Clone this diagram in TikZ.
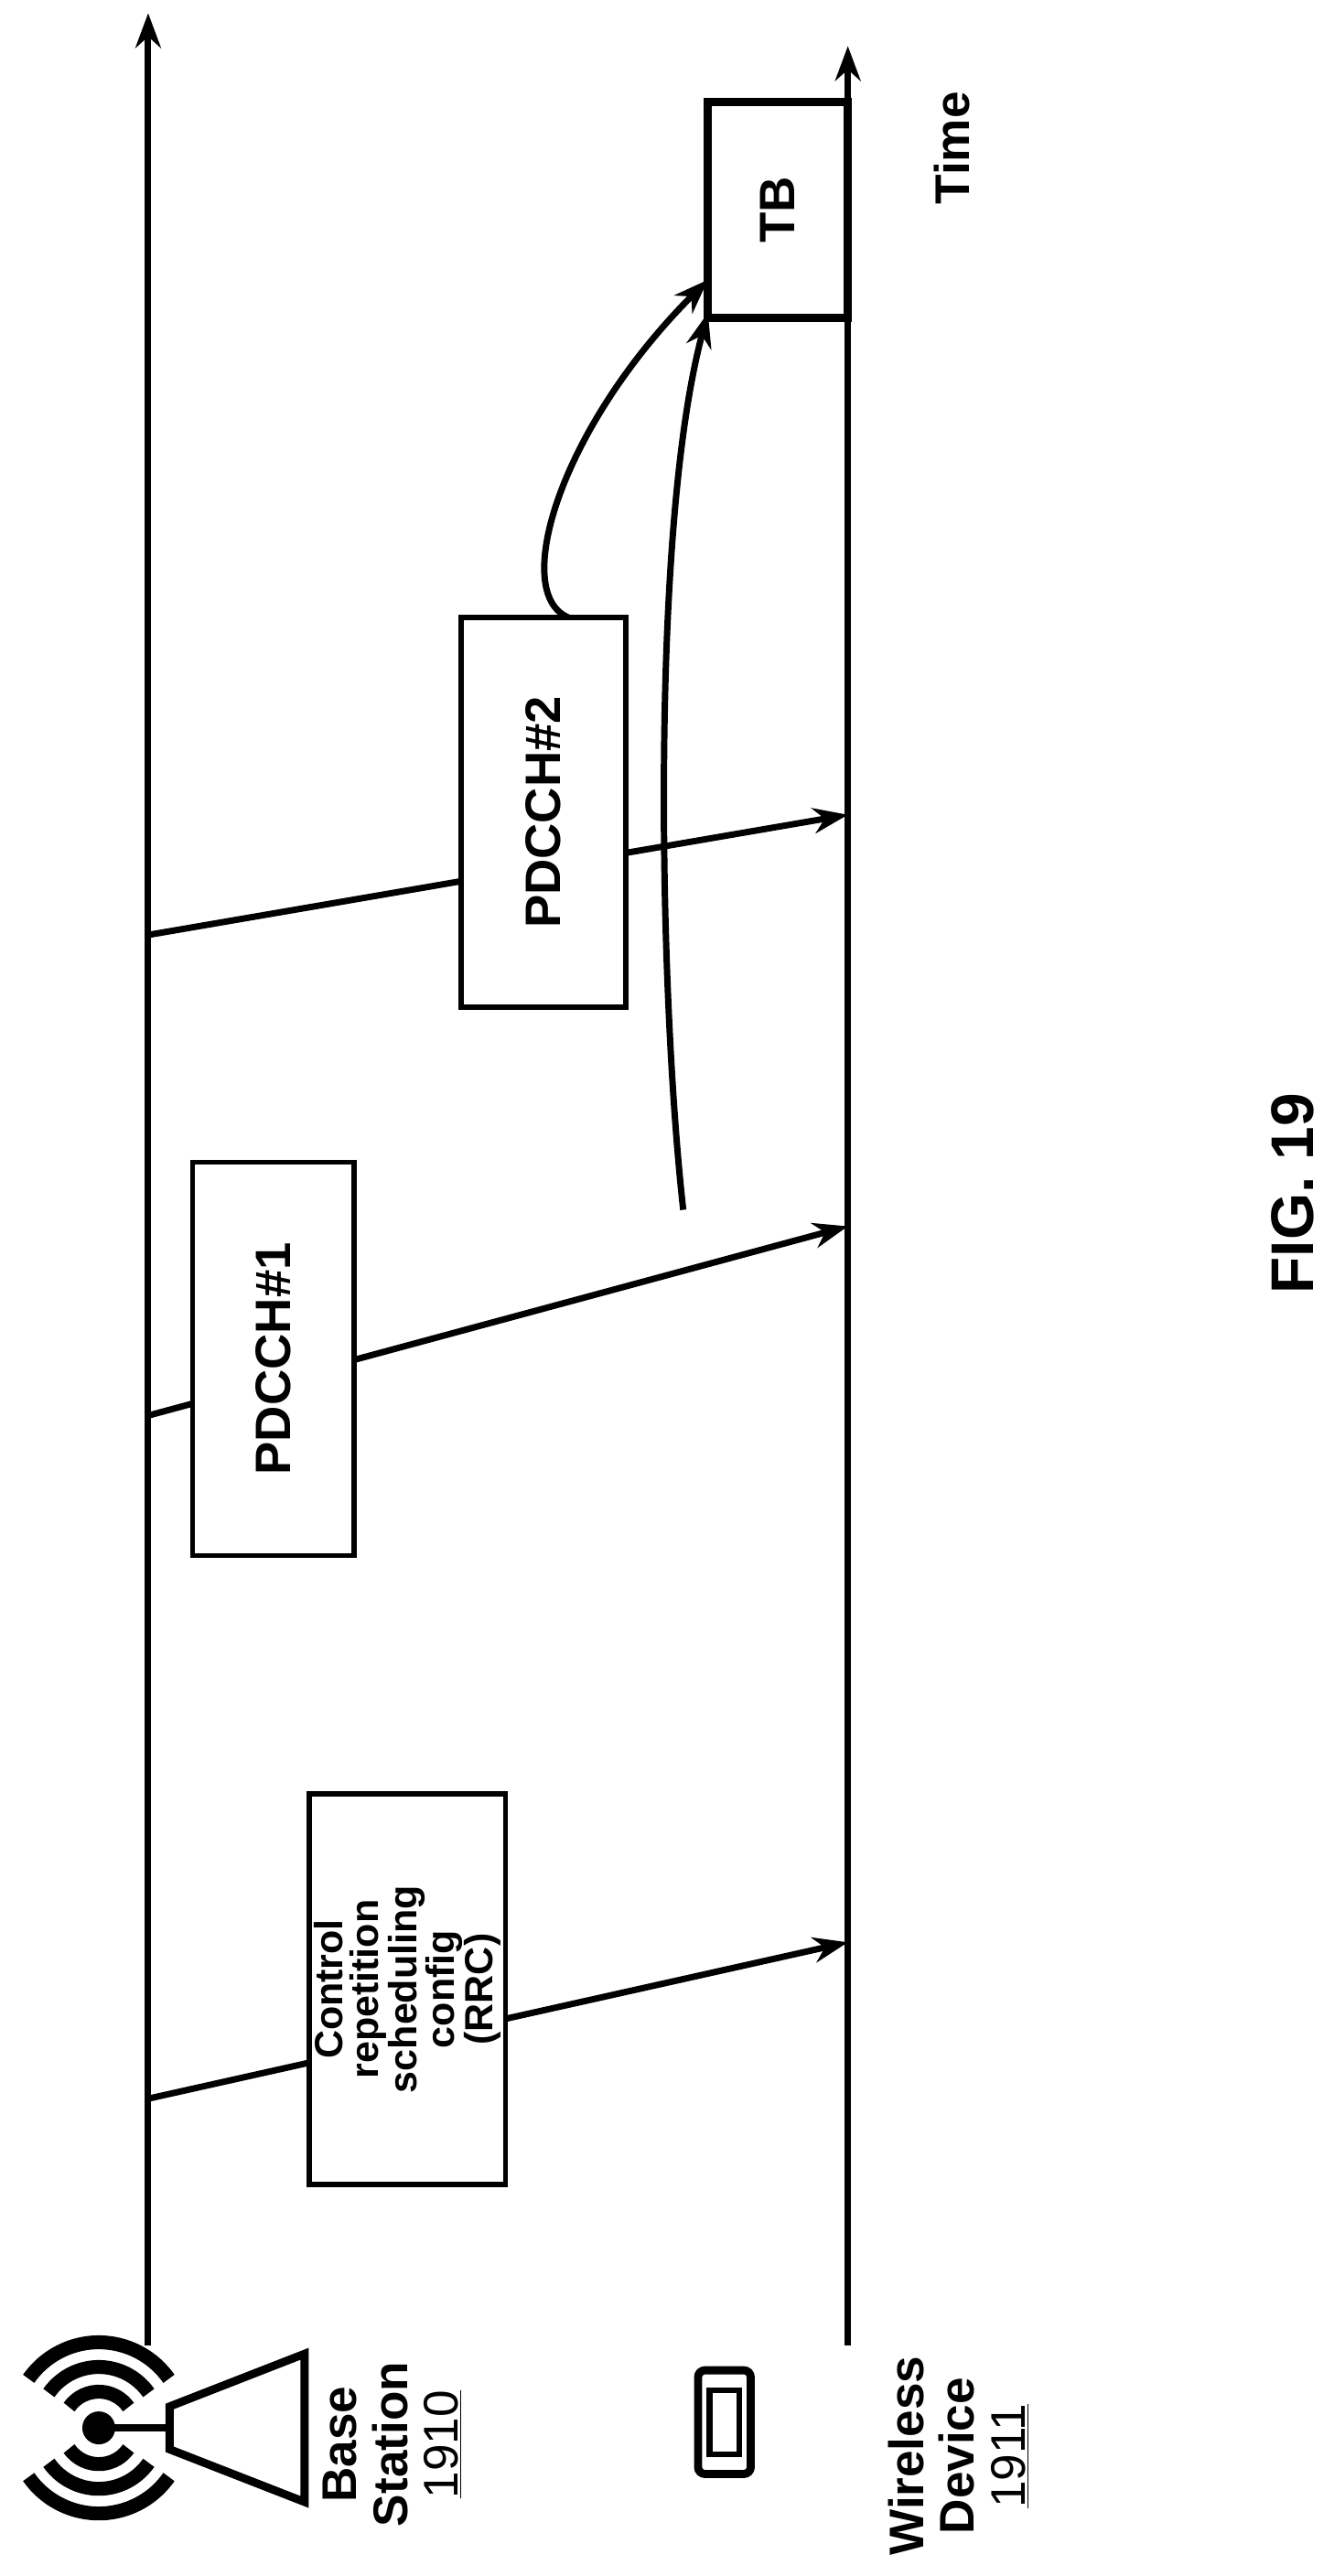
\documentclass[tikz,border=0pt]{standalone}
\usepackage{fontspec}
\setmainfont{Liberation Sans}
\usetikzlibrary{arrows.meta}
\begin{document}
\begin{tikzpicture}[x=0.05cm,y=-0.05cm,
  ln/.style={line width=5.5pt},
  arr/.style={ln,-{Stealth[length=30pt,width=22pt]}},
  box/.style={draw,line width=4.5pt,fill=white,rotate=90,align=center,inner sep=0pt,font=\fontsize{43}{38}\selectfont\bfseries},
  lab/.style={rotate=90,align=center,font=\fontsize{42}{44}\selectfont\bfseries}]
\useasboundingbox (0,0) rectangle (810,1565);
% timelines
\coordinate (bs0) at (90,1425); \coordinate (bs1) at (90,8);
\coordinate (wd0) at (515,1425); \coordinate (wd1) at (515,28);
\draw[arr] (bs0) -- (bs1);
\draw[arr] (wd0) -- (wd1);
% messages
\coordinate (a1) at (90,1275); \coordinate (b1) at (515,1180);
\coordinate (a2) at (90,860); \coordinate (b2) at (515,745);
\coordinate (a3) at (90,568); \coordinate (b3) at (515,495);
\draw[arr] (a1) -- (b1);
\draw[arr] (a2) -- (b2);
\draw[arr] (a3) -- (b3);
\node[box,minimum width=11.85cm,minimum height=5.95cm] (rrc) at (247.5,1208.5) {};
\node[rotate=90,align=center,inner sep=0pt,font=\fontsize{34}{31}\selectfont\bfseries] (rrct) at (rrc.center) {Control\\repetition\\scheduling\\config\\(RRC)};
\node[box,minimum width=11.95cm,minimum height=4.9cm] (p1) at (166,825.5) {PDCCH\#1};
\node[box,minimum width=11.85cm,minimum height=5cm] (p2) at (330,493.5) {PDCCH\#2};
\node[box,line width=7pt,minimum width=6.55cm,minimum height=4.25cm] (tb) at (472.5,127.5) {TB};
% curves
\coordinate (c1) at (415,735);
\coordinate (c2) at (345,375);
\draw[arr] (c2) .. controls (310,360) and (340,260) .. (430,170);
\draw[arr] (c1) .. controls (400,600) and (395,320) .. (430,190);
% labels
\node[lab] (time) at (578,90) {Time};
\node[lab,font=\fontsize{52}{56}\selectfont\bfseries] (fig) at (785,725) {FIG. 19};
\node[lab] (bsl) at (238,1485) {Base\\Station\\{\mdseries\underline{1910}}};
\node[lab] (wdl) at (582,1492) {Wireless\\Device\\{\mdseries\underline{1911}}};
% base station icon
\fill (60,1475) circle (10);
\foreach \r in {22,37,52}{
  \draw[line width=12pt] (60,1475) ++(145:\r) arc[start angle=145,end angle=35,radius=\r];
  \draw[line width=12pt] (60,1475) ++(215:\r) arc[start angle=215,end angle=325,radius=\r];
}
\draw[line width=6pt] (60,1475) -- (103,1475);
\draw[line width=7pt,line join=miter] (103,1462) -- (185,1430) -- (185,1520) -- (103,1488) -- cycle;
% phone icon
\draw[line width=7pt,rounded corners=6] (424,1440) rectangle (456,1503);
\draw[line width=5pt] (431,1452) rectangle (449,1491);
\end{tikzpicture}
\end{document}
